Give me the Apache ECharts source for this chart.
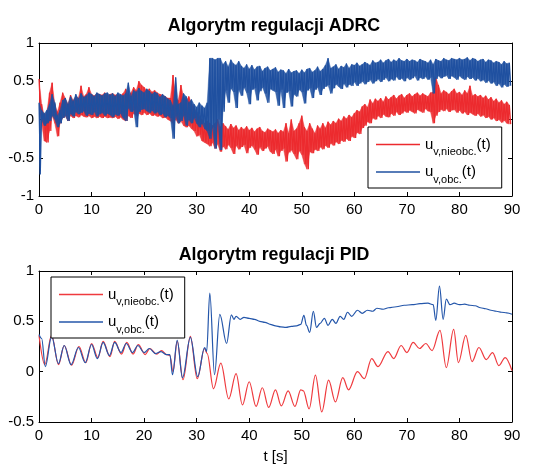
<!DOCTYPE html>
<html><head><meta charset="utf-8">
<script src="https://cdn.jsdelivr.net/npm/echarts@6/dist/echarts.min.js"></script>
<style>html,body{margin:0;padding:0;background:#fff}#c{width:548px;height:465px}</style>
</head><body><div id="c"></div>
<script>
// ---------- tick values ----------
const xTickValues = [0,10,20,30,40,50,60,70,80,90];
const yTicksADRC = [-1,-0.5,0,0.5,1];
const yTicksPID = [-0.5,0,0.5,1];

// ---------- ADRC: upper / lower extent of the noisy signal every 0.5 s (t = 0 ... 89.5) ----------
const adrcStep = 0.5;
const adrcObcHi = [
 0.22,0.12,0.08,0.12,0.20,0.33,0.22,0.05,0.12,0.25, 0.28,0.20,0.30,0.24,0.33,0.27,0.34,0.29,0.31,0.35,
 0.33,0.30,0.35,0.33,0.31,0.34,0.35,0.32,0.34,0.30, 0.35,0.33,0.31,0.34,0.48,0.30,0.38,0.36,0.41,0.37,
 0.35,0.40,0.37,0.33,0.36,0.34,0.29,0.33,0.30,0.27, 0.25,0.18,0.55,0.20,0.22,0.34,0.30,0.22,0.26,0.20,
 0.16,0.22,0.18,0.15,0.22,0.80,0.80,0.78,0.80,0.80, 0.72,0.76,0.69,0.78,0.73,0.71,0.76,0.70,0.67,0.72,
 0.66,0.71,0.65,0.69,0.70,0.63,0.67,0.69,0.64,0.66, 0.68,0.62,0.65,0.64,0.60,0.66,0.61,0.63,0.64,0.60,
 0.65,0.61,0.66,0.67,0.62,0.64,0.69,0.63,0.66,0.71, 0.80,0.67,0.69,0.72,0.66,0.70,0.68,0.73,0.67,0.72,
 0.71,0.74,0.70,0.72,0.75,0.73,0.71,0.77,0.74,0.75, 0.78,0.74,0.77,0.79,0.75,0.78,0.76,0.80,0.77,0.76,
 0.79,0.76,0.78,0.77,0.75,0.79,0.77,0.76,0.74,0.78, 0.72,0.79,0.77,0.76,0.80,0.78,0.77,0.80,0.79,0.78,
 0.80,0.78,0.79,0.81,0.77,0.80,0.79,0.76,0.78,0.79, 0.75,0.78,0.77,0.74,0.76,0.75,0.72,0.76,0.73,0.74
];
const adrcObcLo = [
 -0.72,0.00,-0.08,-0.05,-0.02,0.05,0.00,-0.10,-0.05,0.02, 0.05,-0.02,0.08,0.04,0.10,0.07,0.09,0.11,0.05,0.08,
 0.06,0.10,0.04,0.07,0.09,0.05,0.08,0.06,0.03,0.07, 0.05,0.08,0.02,-0.02,0.15,0.10,0.12,-0.10,0.10,0.13,
 0.14,0.11,0.09,0.12,0.08,0.10,0.06,0.08,0.03,0.05, 0.02,-0.25,0.05,-0.05,-0.02,0.05,-0.08,0.00,-0.05,0.02,
 -0.05,-0.10,-0.05,-0.12,-0.15,-0.25,-0.10,-0.38,0.00,-0.40, 0.10,0.38,0.22,0.41,0.36,0.15,0.39,0.31,0.42,0.35,
 0.20,0.39,0.41,0.25,0.37,0.42,0.34,0.22,0.40,0.38, 0.36,0.18,0.39,0.15,0.35,0.37,0.17,0.33,0.30,0.39,
 0.36,0.21,0.38,0.41,0.28,0.39,0.42,0.32,0.40,0.43, 0.45,0.34,0.41,0.46,0.43,0.40,0.47,0.42,0.46,0.44,
 0.49,0.44,0.47,0.50,0.46,0.49,0.52,0.47,0.50,0.53, 0.49,0.52,0.55,0.50,0.53,0.51,0.56,0.52,0.54,0.50,
 0.55,0.52,0.54,0.57,0.51,0.55,0.53,0.56,0.52,0.55, 0.34,0.53,0.57,0.54,0.56,0.58,0.53,0.57,0.55,0.52,
 0.57,0.54,0.52,0.56,0.53,0.55,0.51,0.54,0.50,0.52, 0.48,0.51,0.47,0.49,0.44,0.47,0.42,0.46,0.43,0.44
];
const adrcNieobcHi = [
 0.53,0.20,0.05,0.10,0.35,0.48,0.20,0.10,0.22,0.35, 0.28,0.20,0.32,0.25,0.30,0.28,0.44,0.30,0.33,0.42,
 0.33,0.31,0.34,0.33,0.32,0.35,0.31,0.33,0.34,0.32, 0.33,0.31,0.34,0.40,0.30,0.35,0.42,0.38,0.50,0.45,
 0.42,0.38,0.40,0.36,0.38,0.35,0.33,0.32,0.30,0.28, 0.28,0.58,0.30,0.25,0.45,0.30,0.25,0.30,0.22,0.15,
 0.10,0.05,0.00,-0.05,-0.02,-0.05,-0.08,-0.05,0.00,-0.10, -0.05,-0.09,-0.13,-0.06,-0.11,-0.08,-0.14,-0.10,-0.13,-0.09,
 -0.14,-0.11,-0.16,-0.12,-0.10,-0.15,-0.17,-0.12,-0.14,-0.16, -0.13,-0.18,-0.14,-0.16,-0.05,-0.18,0.00,-0.15,-0.12,-0.05,
 0.05,-0.10,-0.15,-0.05,-0.12,-0.18,-0.08,-0.12,-0.05,-0.11, -0.03,-0.07,-0.02,-0.05,0.01,-0.02,0.04,0.01,0.06,0.03,
 0.08,0.12,0.10,0.17,0.20,0.16,0.26,0.21,0.27,0.24, 0.28,0.23,0.30,0.26,0.29,0.32,0.27,0.31,0.33,0.28,
 0.32,0.34,0.30,0.33,0.35,0.31,0.34,0.32,0.30,0.35, 0.36,0.55,0.45,0.34,0.38,0.36,0.33,0.37,0.40,0.34,
 0.36,0.32,0.38,0.34,0.44,0.31,0.33,0.30,0.32,0.28, 0.31,0.26,0.29,0.24,0.27,0.22,0.25,0.20,0.23,0.19
];
const adrcNieobcLo = [
 0.15,-0.05,-0.28,-0.30,-0.15,0.05,-0.05,-0.22,-0.05,0.02, 0.05,-0.02,0.05,0.02,0.05,0.03,0.06,0.04,0.03,0.05,
 0.02,0.04,0.02,0.04,0.02,0.04,0.02,0.03,0.02,0.04, 0.01,0.03,0.00,-0.02,0.05,0.02,0.08,0.05,0.08,0.06,
 0.09,0.06,0.08,0.05,0.06,0.04,0.05,0.02,0.03,0.00, -0.02,-0.05,0.00,-0.05,-0.02,-0.08,-0.10,-0.08,-0.12,-0.15,
 -0.22,-0.20,-0.28,-0.30,-0.32,-0.35,-0.30,-0.38,-0.32,-0.42, -0.35,-0.39,-0.33,-0.37,-0.45,-0.34,-0.39,-0.36,-0.33,-0.44,
 -0.37,-0.34,-0.39,-0.46,-0.36,-0.41,-0.38,-0.35,-0.42,-0.45, -0.39,-0.48,-0.41,-0.38,-0.55,-0.43,-0.40,-0.45,-0.52,-0.41,
 -0.46,-0.58,-0.65,-0.42,-0.44,-0.39,-0.41,-0.36,-0.39,-0.34, -0.37,-0.31,-0.34,-0.29,-0.32,-0.27,-0.29,-0.25,-0.28,-0.22,
 -0.24,-0.17,-0.19,-0.11,-0.08,-0.03,-0.05,0.02,0.00,0.05, 0.02,0.07,0.04,0.03,0.08,0.05,0.10,0.06,0.08,0.11,
 0.09,0.12,0.10,0.08,0.13,0.11,0.09,0.14,0.11,0.10, -0.05,0.05,0.10,0.13,0.11,0.14,0.10,0.12,0.13,0.09,
 0.12,0.08,0.10,0.06,0.09,0.07,0.05,0.08,0.04,0.06, 0.02,0.04,0.00,0.02,-0.02,0.00,-0.04,-0.01,-0.05,-0.06
];

// ---------- PID: turning points of the signals ----------
const pidNieobcT = [0,1.1,2.4,3.7,4.8,6.2,7.6,8.9,10,11.2,12.2,13.5,14.4,15.7,16.7,17.9,18.9,20.2,21.1,22.4,23.3,24.3,24.9,25.5,26.3,27.4,28.8,30.1,31.5,32.0,33.2,34.6,36.1,37.5,38.7,40.0,41.3,42.5,43.7,45.0,46.1,47.4,48.7,49.8,50.3,51.4,52.6,53.8,55.1,56.4,57.8,58.9,60.6,61.9,63.3,64.5,66.4,67.5,68.9,70.0,71.2,72.4,73.6,74.8,76.3,77.5,78.9,79.8,81.2,82.4,83.7,85.1,86.3,87.5,88.7,90];
const pidNieobcV = [0.36,0.07,0.36,0.07,0.26,0.065,0.25,0.09,0.28,0.14,0.30,0.15,0.30,0.175,0.29,0.175,0.27,0.17,0.23,0.175,0.21,0.17,0.16,0.0,0.30,-0.08,0.35,-0.07,0.23,0.18,-0.17,0.085,-0.27,-0.02,-0.33,-0.10,-0.345,-0.16,-0.355,-0.18,-0.34,-0.19,-0.345,-0.18,-0.19,-0.37,-0.035,-0.40,-0.085,-0.30,-0.06,-0.18,0.0,-0.07,0.13,0.05,0.20,0.13,0.26,0.19,0.29,0.23,0.28,0.21,0.41,0.04,0.42,0.09,0.36,0.10,0.24,0.12,0.19,0.06,0.14,0.01];
const pidObcT = [0,0.5,1.2,2.4,3.7,4.8,6.1,7.5,8.8,10,11.1,12.2,13.4,14.4,15.6,16.6,17.8,18.8,20,21,22.2,23.2,24.2,24.9,25.4,26.3,27.3,28.8,30.2,31.5,31.9,32.5,33.4,34.4,35.7,36.6,37.1,37.5,38.3,39,40,41,42,43,44,45,46,47,48,49,49.8,50.4,50.9,51.5,52.2,52.8,53.5,54.3,55,55.8,56.5,57.3,58,58.7,59.5,60.6,61.5,62.5,63.5,64.3,65.5,66.5,68,69.5,71,72.5,74,75,75.5,76.2,76.9,77.5,78.2,79,80,81,82,83,84,85,86,87,88,89,90];
const pidObcV = [0.37,0.33,0.05,0.35,0.08,0.26,0.07,0.24,0.09,0.27,0.13,0.29,0.16,0.29,0.19,0.28,0.19,0.26,0.19,0.23,0.18,0.20,0.17,0.17,-0.03,0.31,-0.06,0.34,-0.05,0.24,0.20,0.78,-0.03,0.57,0.28,0.565,0.52,0.55,0.52,0.54,0.53,0.52,0.50,0.49,0.47,0.455,0.445,0.44,0.45,0.455,0.47,0.56,0.46,0.39,0.60,0.44,0.48,0.53,0.46,0.52,0.48,0.55,0.52,0.59,0.55,0.61,0.58,0.61,0.60,0.63,0.62,0.635,0.645,0.66,0.665,0.675,0.68,0.665,0.51,0.85,0.52,0.72,0.665,0.68,0.665,0.67,0.66,0.655,0.635,0.625,0.61,0.60,0.59,0.585,0.57];

// ---------- build tables ----------
function interleave(hi, lo, step) {
  const out = [];
  for (let i = 0; i < hi.length; i++) {
    out.push([i * step, hi[i]]);
    out.push([i * step + step / 2, lo[i]]);
  }
  return out;
}
function bandItems(hi, lo, step) {
  const out = [];
  for (let i = 0; i < hi.length - 1; i++) {
    out.push([i * step, hi[i], lo[i], (i + 1) * step, hi[i + 1], lo[i + 1]]);
  }
  return out;
}
function zip(t, v) { return t.map((x, i) => [x, v[i]]); }

const FONT = 'Liberation Sans, Arial, Helvetica, sans-serif';
const subs = { aN: 'v,nieobc.', aO: 'v,obc.', pN: 'v,nieobc.', pO: 'v,obc.' };

function xAx(grid, pos, withLabels, extra) {
  return Object.assign({
    type: 'value', gridIndex: grid, position: pos,
    min: xTickValues[0], max: xTickValues[xTickValues.length - 1],
    interval: xTickValues[1] - xTickValues[0],
    axisLine: { show: true, onZero: false, lineStyle: { color: '#000', width: 1 } },
    axisTick: { show: true, inside: true, length: 4, lineStyle: { color: '#000' } },
    axisLabel: { show: withLabels, margin: 6, fontSize: 15, color: '#000', fontFamily: FONT, showMinLabel: true, showMaxLabel: true },
    splitLine: { show: false }
  }, extra || {});
}
function yAx(grid, pos, ticks, withLabels) {
  return {
    type: 'value', gridIndex: grid, position: pos,
    min: ticks[0], max: ticks[ticks.length - 1], interval: ticks[1] - ticks[0],
    axisLine: { show: true, onZero: false, lineStyle: { color: '#000', width: 1 } },
    axisTick: { show: true, inside: true, length: 4, lineStyle: { color: '#000' } },
    axisLabel: { show: withLabels, margin: 5, fontSize: 15, color: '#000', fontFamily: FONT, showMinLabel: true, showMaxLabel: true },
    splitLine: { show: false }
  };
}
const rich = {
  u: { fontSize: 15, lineHeight: 26, color: '#000', fontFamily: FONT },
  s: { fontSize: 11, lineHeight: 12, verticalAlign: 'bottom', color: '#000', fontFamily: FONT },
  t: { fontSize: 15, lineHeight: 26, color: '#000', fontFamily: FONT }
};
function legend(names, left, top) {
  return {
    data: names, left: left, top: top, orient: 'vertical', z: 20,
    padding: [10, 11, 3, 8], itemGap: 7, itemWidth: 44, itemHeight: 1.6,
    icon: 'rect', borderColor: '#000', borderWidth: 1, borderRadius: 0,
    backgroundColor: '#fff', selectedMode: false,
    itemStyle: { borderWidth: 0 },
    formatter: n => '{u|u}{s|' + subs[n] + '}{t|(t)}',
    textStyle: { rich: rich }
  };
}

const redA = '#ec2a2e', blueA = '#1f50a0', redP = '#ef3a3e', blueP = '#2456aa';

function noisy(name, hi, lo, color, zBase) {
  return [
    { name: name + '_band', type: 'custom', xAxisIndex: 0, yAxisIndex: 0, silent: true, clip: true, z: zBase,
      encode: { x: [0, 3], y: [1, 2, 4, 5] },
      renderItem: function (params, api) {
        const a = api.coord([api.value(0), api.value(1)]);
        const b = api.coord([api.value(3), api.value(4)]);
        const c = api.coord([api.value(3), api.value(5)]);
        const d = api.coord([api.value(0), api.value(2)]);
        return { type: 'polygon', shape: { points: [a, b, c, d] },
                 style: { fill: color, stroke: color, lineWidth: 0.5, opacity: 0.85 } };
      },
      data: bandItems(hi, lo, adrcStep) },
    { name: name, type: 'line', xAxisIndex: 0, yAxisIndex: 0, color: color, showSymbol: false, symbol: 'none', z: zBase + 1,
      lineStyle: { width: 1.2, color: color }, data: interleave(hi, lo, adrcStep) }
  ];
}

const option = {
  animation: false,
  backgroundColor: '#fff',
  title: [
    { text: 'Algorytm regulacji ADRC', left: 'center', top: 12, textStyle: { fontSize: 17.8, fontWeight: 'bold', color: '#000', fontFamily: FONT } },
    { text: 'Algorytm regulacji PID', left: 'center', top: 241, textStyle: { fontSize: 17.8, fontWeight: 'bold', color: '#000', fontFamily: FONT } }
  ],
  grid: [
    { left: 39, top: 43, width: 473, height: 153 },
    { left: 39, top: 271, width: 473, height: 154 }
  ],
  xAxis: [
    xAx(0, 'bottom', true), xAx(0, 'top', false),
    xAx(1, 'bottom', true, { name: 't [s]', nameLocation: 'middle', nameGap: 27, nameTextStyle: { fontSize: 15, color: '#000', fontFamily: FONT } }),
    xAx(1, 'top', false)
  ],
  yAxis: [
    yAx(0, 'left', yTicksADRC, true), yAx(0, 'right', yTicksADRC, false),
    yAx(1, 'left', yTicksPID, true), yAx(1, 'right', yTicksPID, false)
  ],
  legend: [legend(['aN', 'aO'], 368, 127), legend(['pN', 'pO'], 51, 277)],
  series: [].concat(
    noisy('aN', adrcNieobcHi, adrcNieobcLo, redA, 2),
    noisy('aO', adrcObcHi, adrcObcLo, blueA, 4),
    [
      { name: 'pN', type: 'line', xAxisIndex: 2, yAxisIndex: 2, color: redP, showSymbol: false, symbol: 'none', z: 2,
        smooth: 0.35, smoothMonotone: 'x', lineStyle: { width: 1.2, color: redP }, data: zip(pidNieobcT, pidNieobcV) },
      { name: 'pO', type: 'line', xAxisIndex: 2, yAxisIndex: 2, color: blueP, showSymbol: false, symbol: 'none', z: 3,
        smooth: 0.35, smoothMonotone: 'x', lineStyle: { width: 1.2, color: blueP }, data: zip(pidObcT, pidObcV) }
    ])
};
const chart = echarts.init(document.getElementById('c'), null, { renderer: 'canvas' });
chart.setOption(option);
</script>
</body></html>
